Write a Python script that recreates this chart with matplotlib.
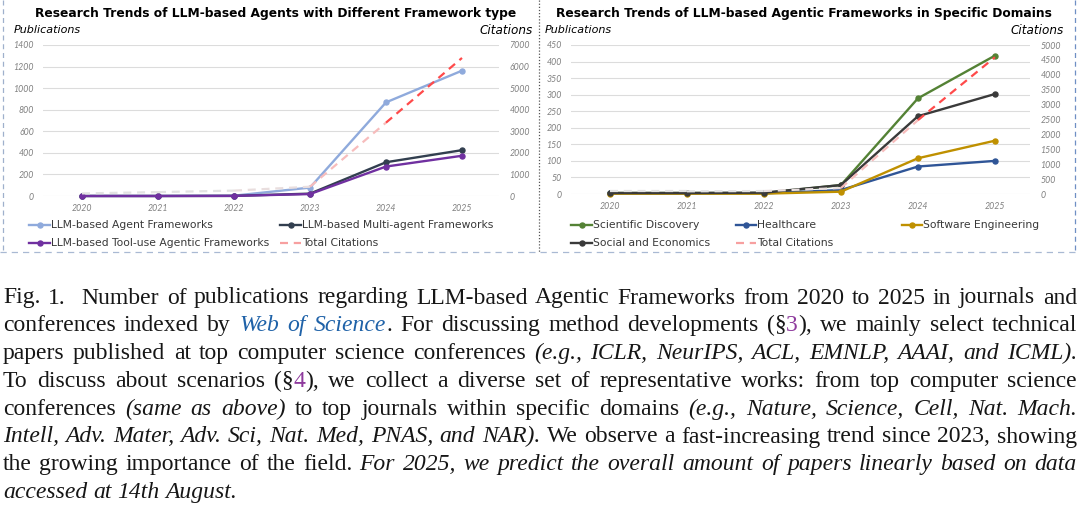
import numpy as np
import matplotlib
matplotlib.use("Agg")
import matplotlib.pyplot as plt
from matplotlib.lines import Line2D

years = [2020, 2021, 2022, 2023, 2024, 2025]

# left panel: publications by framework type (left axis) + citations (right axis)
agent_fw = [1, 1, 3, 78, 868, 1162]
multi_agent_fw = [0, 0, 1, 22, 313, 425]
tool_use_fw = [0, 0, 1, 18, 273, 373]
citations_fw = [120, 180, 250, 430, 3400, 6400]

# right panel: publications by domain + citations
scientific = [3, 3, 3, 27, 289, 418]
healthcare = [2, 2, 2, 12, 83, 100]
software = [1, 1, 1, 7, 108, 161]
social = [3, 3, 4, 27, 235, 302]
citations_dom = [90, 90, 100, 200, 2480, 4590]

fw_labels = ["LLM-based Agent Frameworks", "LLM-based Multi-agent Frameworks",
             "LLM-based Tool-use Agentic Frameworks", "Total Citations"]
dom_labels = ["Scientific Discovery", "Healthcare", "Software Engineering",
              "Social and Economics", "Total Citations"]

W, H = 1080, 523
fig = plt.figure(figsize=(W / 100, H / 100), dpi=100)
renderer = fig.canvas.get_renderer()

CHART_FONT = "DejaVu Sans"
TICK_FONT = "Lato"
CAP_FONT = "Liberation Serif"
# dashed citation line fades from grey to red
SEG_COLORS = ["#e3e3e3", "#e3e3e3", "#e9dede", "#f7bcbc", "#ff4a4a"]


def fx(x):
    return x / W


def fy(y):
    return 1 - y / H


def px_axes(x0, y0, x1, y1):
    return fig.add_axes([fx(x0), fy(y1), (x1 - x0) / W, (y1 - y0) / H])


def fit_text(x, y, s, width_px, **kw):
    t = fig.text(fx(x), fy(y), s, **kw)
    w = t.get_window_extent(renderer).width
    t.set_fontsize(t.get_fontsize() * width_px / w)
    return t


def hline(x0, x1, y, **kw):
    fig.add_artist(Line2D([fx(x0), fx(x1)], [fy(y), fy(y)], **kw))


def vline(x, y0, y1, **kw):
    fig.add_artist(Line2D([fx(x), fx(x)], [fy(y0), fy(y1)], **kw))


def panel(box, years_pad, lmax, lstep, rmax, rstep, series, cites):
    ax = px_axes(*box)
    ax.set_xlim(years[0] - years_pad[0], years[-1] + years_pad[1])
    ax.set_ylim(0, lmax)
    yt = np.arange(0, lmax + 1, lstep)
    ax.set_yticks(yt, labels=[str(v) for v in yt], fontstyle="italic",
                  family=TICK_FONT, fontsize=6.3, color="#808080")
    ax.set_xticks(years, labels=[str(v) for v in years], fontstyle="italic",
                  family=TICK_FONT, fontsize=6.3, color="#808080")
    ax.tick_params(axis="y", length=0, pad=6.5)
    ax.tick_params(axis="x", length=0, pad=6.0)
    ax.grid(axis="y", color="#dcdcdc", lw=0.8)
    ax.set_axisbelow(True)
    for s in ax.spines.values():
        s.set_visible(False)
    for vals, color in series:
        ax.plot(years, vals, color=color, lw=1.7, marker="o", ms=3.6,
                clip_on=False)

    ax2 = ax.twinx()
    ax2.set_ylim(0, rmax)
    rt = np.arange(0, rmax + 1, rstep)
    ax2.set_yticks(rt, labels=[str(v) for v in rt], fontstyle="italic",
                   family=TICK_FONT, fontsize=6.3, color="#808080")
    ax2.tick_params(axis="y", length=0, pad=7.5)
    for s in ax2.spines.values():
        s.set_visible(False)
    for i in range(len(years) - 1):
        ax2.plot(years[i:i + 2], cites[i:i + 2], color=SEG_COLORS[i], lw=1.6,
                 dashes=(3.6, 2.6))
    return ax


def legend_item(x0, x1, y, color, label, size, dashed=False):
    if dashed:
        hline(x0, x1, y, color="#f7a0a0", lw=1.6, dashes=(3.6, 2.6))
    else:
        hline(x0, x1, y, color=color, lw=1.7)
        fig.add_artist(Line2D([fx((x0 + x1) / 2)], [fy(y)], color=color,
                              marker="o", ms=3.6))
    fig.text(fx(x1 + 1), fy(y), label, family=CHART_FONT, fontsize=size,
             color="#383838", va="center", ha="left")


# ---- panels ----
panel((43, 45, 499, 196), (0.513, 0.487), 1400, 200, 7000, 1000,
      [(agent_fw, "#8faadc"), (multi_agent_fw, "#323f4f"), (tool_use_fw, "#7030a0")],
      citations_fw)
panel((571, 45, 1030, 194), (0.506, 0.455), 450, 50, 5000, 500,
      [(scientific, "#548235"), (healthcare, "#2f5597"), (software, "#bf9000"),
       (social, "#3a3a3a")],
      citations_dom)

# titles and axis captions
fit_text(276, 14, "Research Trends of LLM-based Agents with Different Framework type",
         484, family=CHART_FONT, weight="bold", color="black", ha="center", va="center")
fit_text(804, 14, "Research Trends of LLM-based Agentic Frameworks in Specific Domains",
         494, family=CHART_FONT, weight="bold", color="black", ha="center", va="center")
for x, ha, s in [(14, "left", "Publications"), (533, "right", "Citations"),
                 (545, "left", "Publications"), (1064, "right", "Citations")]:
    fit_text(x, 30, s, 67 if s == "Publications" else 53, family=CHART_FONT,
             style="italic", color="black", ha=ha, va="center")

# legends
probe = fit_text(0, -50, fw_labels[1], 191, family=CHART_FONT)
lsize = probe.get_fontsize()
probe.remove()
r1, r2 = 224.5, 242.5
legend_item(29, 50, r1, "#8faadc", fw_labels[0], lsize)
legend_item(280, 301, r1, "#323f4f", fw_labels[1], lsize)
legend_item(29, 50, r2, "#7030a0", fw_labels[2], lsize)
legend_item(280, 301, r2, None, fw_labels[3], lsize, dashed=True)
legend_item(571, 592, r1, "#548235", dom_labels[0], lsize)
legend_item(736, 756, r1, "#2f5597", dom_labels[1], lsize)
legend_item(902, 922, r1, "#bf9000", dom_labels[2], lsize)
legend_item(571, 592, r2, "#3a3a3a", dom_labels[3], lsize)
legend_item(736, 756, r2, None, dom_labels[4], lsize, dashed=True)

# panel frames
vline(3, 0, 252, color="#9fb0cc", lw=0.9, dashes=(4, 3))
hline(0, 1076, 252, color="#a9b9d3", lw=0.9, dashes=(5, 4))
vline(539, 0, 252, color="#555555", lw=0.9, dashes=(1, 1.5))
vline(1075, 0, 252, color="#6f8fc4", lw=0.9, dashes=(4, 3))

# ---- caption (justified) ----
R, I, B, P = "r", "i", "b", "p"
STYLES = {
    R: dict(family=CAP_FONT, color="#161616"),
    I: dict(family=CAP_FONT, style="italic", color="#161616"),
    B: dict(family=CAP_FONT, style="italic", color="#1f62a8"),
    P: dict(family=CAP_FONT, color="#8e3a9d"),
}
caption = [
    [("Fig. 1.  Number of publications regarding LLM-based Agentic Frameworks from 2020 to 2025 in journals and", R)],
    [("conferences indexed by ", R), ("Web of Science", B),
     (". For discussing method developments (§", R), ("3", P), ("), we mainly select technical", R)],
    [("papers published at top computer science conferences ", R),
     ("(e.g., ICLR, NeurIPS, ACL, EMNLP, AAAI, and ICML).", I)],
    [("To discuss about scenarios (§", R), ("4", P),
     ("), we collect a diverse set of representative works: from top computer science", R)],
    [("conferences ", R), ("(same as above)", I), (" to top journals within specific domains ", R),
     ("(e.g., Nature, Science, Cell, Nat. Mach.", I)],
    [("Intell, Adv. Mater, Adv. Sci, Nat. Med, PNAS, and NAR).", I),
     (" We observe a fast-increasing trend since 2023, showing", R)],
    [("the growing importance of the field. ", R),
     ("For 2025, we predict the overall amount of papers linearly based on data", I)],
    [("accessed at 14th August.", I)],
]
CAP_SIZE = 17
CAP_X0, CAP_X1 = 3, 1077
CAP_Y0, CAP_DY = 303.5, 27.8

for li, runs in enumerate(caption):
    words = [[]]
    for txt, st in runs:
        for k, part in enumerate(txt.split(" ")):
            if k > 0:
                words.append([])
            if part:
                words[-1].append((part, st))
    while words and not words[-1]:
        words.pop()
    y = CAP_Y0 + li * CAP_DY
    placed = []
    total = 0.0
    for w in words:
        pieces = []
        for part, st in w:
            t = fig.text(0, fy(y), part, fontsize=CAP_SIZE, va="baseline", **STYLES[st])
            pw = t.get_window_extent(renderer).width
            pieces.append((t, pw))
            total += pw
        placed.append(pieces)
    if li == len(caption) - 1:
        sp = fig.text(0, 0, "a a", fontsize=CAP_SIZE, family=CAP_FONT)
        gap = sp.get_window_extent(renderer).width
        sp2 = fig.text(0, 0, "aa", fontsize=CAP_SIZE, family=CAP_FONT)
        gap -= sp2.get_window_extent(renderer).width
        sp.remove()
        sp2.remove()
    else:
        gap = (CAP_X1 - CAP_X0 - total) / max(len(placed) - 1, 1)
    x = CAP_X0
    for pieces in placed:
        for t, pw in pieces:
            t.set_x(fx(x))
            x += pw
        x += gap

fig.savefig("out.png", dpi=100)
